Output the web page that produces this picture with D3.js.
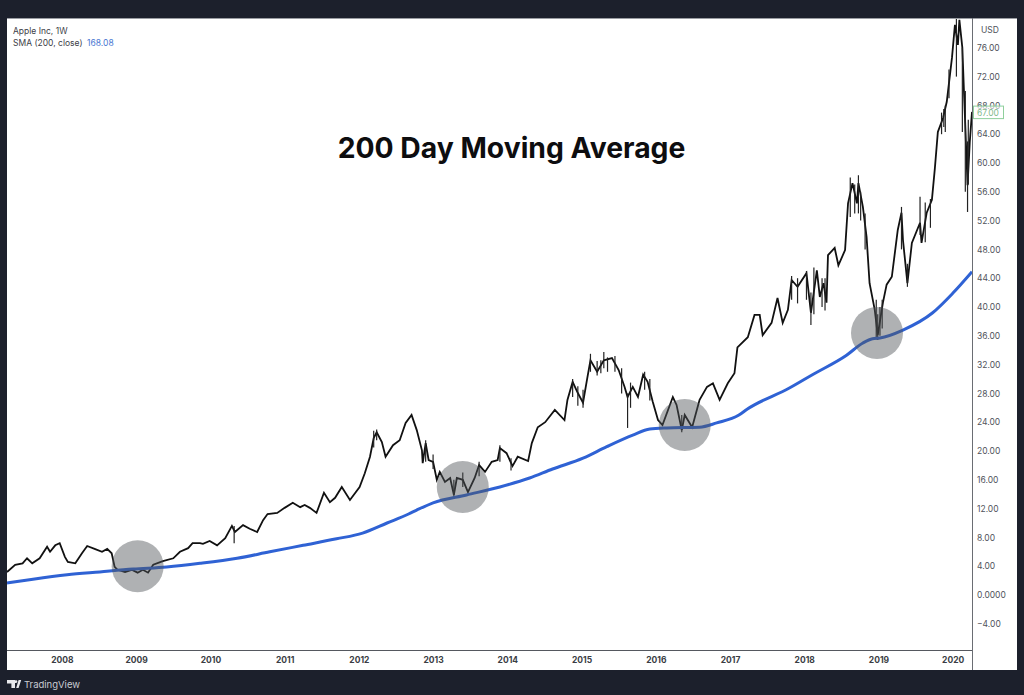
<!DOCTYPE html>
<html><head><meta charset="utf-8">
<script src="https://cdn.jsdelivr.net/npm/d3@7"></script>
<style>html,body{margin:0;padding:0;background:#1c202c;overflow:hidden}svg{display:block}</style>
</head><body><svg id="c" width="1024" height="695"></svg>
<script>
const priceYears=[2007.26,2007.37,2007.47,2007.53,2007.60,2007.70,2007.80,2007.84,2007.91,2007.97,2008.04,2008.08,2008.18,2008.27,2008.34,2008.44,2008.54,2008.61,2008.67,2008.71,2008.75,2008.85,2008.94,2009.02,2009.09,2009.16,2009.23,2009.36,2009.50,2009.59,2009.70,2009.76,2009.86,2009.90,2009.99,2010.09,2010.20,2010.29,2010.33,2010.44,2010.53,2010.63,2010.71,2010.77,2010.90,2011.00,2011.11,2011.21,2011.27,2011.34,2011.43,2011.53,2011.61,2011.68,2011.77,2011.88,2012.01,2012.08,2012.15,2012.20,2012.24,2012.31,2012.36,2012.46,2012.55,2012.63,2012.71,2012.78,2012.85,2012.86,2012.90,2012.94,2013.00,2013.05,2013.09,2013.16,2013.23,2013.28,2013.32,2013.40,2013.47,2013.56,2013.62,2013.70,2013.79,2013.87,2013.90,2013.99,2014.07,2014.14,2014.28,2014.33,2014.41,2014.51,2014.64,2014.77,2014.81,2014.88,2014.95,2015.02,2015.08,2015.12,2015.21,2015.30,2015.41,2015.50,2015.58,2015.62,2015.69,2015.76,2015.83,2015.89,2015.96,2016.03,2016.09,2016.23,2016.28,2016.35,2016.39,2016.49,2016.59,2016.69,2016.77,2016.86,2016.97,2017.06,2017.10,2017.24,2017.33,2017.40,2017.44,2017.56,2017.64,2017.71,2017.78,2017.83,2017.91,2018.03,2018.09,2018.17,2018.21,2018.26,2018.30,2018.32,2018.41,2018.46,2018.55,2018.59,2018.65,2018.71,2018.73,2018.79,2018.84,2018.88,2018.95,2018.99,2019.06,2019.11,2019.18,2019.26,2019.31,2019.33,2019.39,2019.45,2019.56,2019.58,2019.65,2019.72,2019.76,2019.80,2019.87,2019.92,2019.99,2020.03,2020.07,2020.09,2020.13,2020.15,2020.19,2020.20,2020.23,2020.26];
const priceValues=[3.2,4.2,4.4,5.1,4.4,5.1,6.7,6.0,6.9,7.2,5.3,4.6,4.4,5.8,6.8,6.4,6.0,6.4,5.8,3.9,3.5,3.2,3.5,3.1,3.5,3.1,4.2,4.7,5.1,6.0,6.5,7.2,7.2,7.1,7.5,6.9,7.9,9.6,8.75,9.7,9.2,8.75,10.4,11.25,11.4,12.1,12.8,12.2,12.5,12.1,11.4,14.2,12.9,13.5,15.0,13.2,15.0,16.9,19.2,21.8,22.6,21.25,19.2,20.8,21.5,23.9,25.0,22.9,20.1,18.3,21.1,18.75,18.5,16.0,17.1,15.7,16.25,13.9,16.25,16.0,14.3,16.25,18.05,17.1,18.5,18.75,20.4,19.7,17.9,19.2,18.6,21.1,23.3,24.0,25.7,24.3,27.1,29.6,28.05,26.7,30.3,32.6,31.0,32.6,32.9,31.25,28.9,27.5,28.9,27.5,30.6,29.6,26.8,24.3,23.6,27.5,26.4,22.9,25.0,23.3,27.1,28.9,29.4,27.1,29.4,30.8,34.4,35.8,38.9,38.9,36.1,37.8,41.25,37.8,39.6,43.75,42.8,44.7,39.2,45.1,41.4,43.3,40.6,47.2,48.2,45.8,47.9,54.4,57.2,54.4,57.2,53.9,49.7,43.3,39.6,36.1,40.6,43.1,44.2,50.7,53.1,49.3,43.3,48.9,51.7,48.9,53.1,54.9,59.3,64.3,66.25,68.5,74.6,79.2,76.4,79.9,76.0,70.4,59.7,56.9,62.9,67.1];
const wickYears=[2010.32,2015.62,2015.30,2015.12,2016.35,2018.09,2018.73,2018.99,2019.31,2019.39,2019.56,2019.90,2020.13,2020.20,2012.20,2012.24,2012.90,2013.00,2013.28,2013.40,2013.62,2013.90,2014.05,2014.88,2014.95,2015.02,2015.21,2015.26,2015.35,2015.45,2015.54,2015.66,2015.85,2015.92,2017.83,2017.91,2018.03,2018.13,2018.24,2018.28,2018.62,2018.68,2018.76,2018.82,2018.97,2019.02,2019.05,2019.63,2019.70,2019.85,2019.88,2019.95,2020.05,2020.17,2020.21];
const wickLows=[7.2,23.2,31.5,31.0,22.6,37.5,53.0,35.4,48.0,42.8,50.0,64.3,64.3,53.2,20.5,21.5,18.5,17.5,13.5,15.0,16.5,18.5,17.3,27.5,26.3,26.0,30.5,30.8,31.0,31.0,28.0,26.0,28.5,27.0,41.0,40.5,41.0,39.0,40.0,39.5,52.5,53.0,52.0,48.0,35.5,36.0,37.0,49.0,51.0,64.0,65.0,69.0,72.0,56.0,57.0];
const wickHighs=[9.6,28.0,33.75,33.5,25.0,42.0,58.3,39.0,53.9,46.0,55.3,68.0,76.0,63.0,22.8,23.0,21.5,19.5,16.0,17.0,18.5,20.8,19.0,30.0,29.0,28.5,32.5,32.6,33.0,33.2,31.5,29.5,31.0,30.0,44.3,44.0,45.0,45.5,44.0,44.0,58.0,57.0,56.0,53.0,41.0,40.0,41.0,54.5,55.0,67.0,67.5,73.0,80.0,70.0,66.0];
const smaYears=[2007.26,2007.61,2008.07,2008.51,2008.96,2009.41,2009.86,2010.36,2010.80,2011.25,2011.70,2012.05,2012.38,2012.67,2012.78,2013.00,2013.45,2013.90,2014.30,2014.61,2015.02,2015.34,2015.69,2015.92,2016.15,2016.59,2016.82,2017.12,2017.23,2017.80,2018.11,2018.57,2018.79,2018.92,2019.02,2019.33,2019.73,2020.00,2020.26];
const smaValues=[1.67,2.2,2.8,3.2,3.6,3.9,4.4,5.1,6.0,6.9,7.8,8.6,10.0,11.25,11.8,12.8,13.9,15.0,16.25,17.5,19.0,20.6,22.2,23.05,23.2,23.3,23.9,25.0,25.8,28.75,30.6,33.3,35.0,35.6,35.7,36.8,39.2,41.9,44.9];
const touchYears=[2009.02,2013.40,2016.39,2018.98];
const touchValues=[4.0,15.0,23.6,36.4];
const yearTicks=[2008,2009,2010,2011,2012,2013,2014,2015,2016,2017,2018,2019,2020];
const priceTicks=[76,72,68,64,60,56,52,48,44,40,36,32,28,24,20,16,12,8,4,0,-4];
const lastPriceLabel="67.00";
const smaLastLabel="168.08";

const svg=d3.select("#c");
const L=7,R=972,T=18,B=650,RE=1017,BE=670;
const x=d3.scaleLinear().domain([2007.26,2020.26]).range([L,R]);
const y=d3.scaleLinear().domain([80.14,-7.64]).range([T,B]);
const F="Inter, 'Open Sans', sans-serif";

svg.append("rect").attr("width",1024).attr("height",695).attr("fill","#1c202c");
svg.append("rect").attr("x",L).attr("y",T).attr("width",RE-L).attr("height",BE-T).attr("fill","#fff");
svg.append("line").attr("x1",L).attr("x2",RE).attr("y1",T+.5).attr("y2",T+.5).attr("stroke","#9a9da3");
svg.append("clipPath").attr("id","plot").append("rect").attr("x",L).attr("y",T).attr("width",R-L).attr("height",B-T);
const plot=svg.append("g").attr("clip-path","url(#plot)");

const zip=(a,b)=>a.map((d,i)=>[d,b[i]]);
const line=d3.line().x(d=>x(d[0])).y(d=>y(d[1]));
plot.append("path").attr("d",line(zip(priceYears,priceValues))).attr("fill","none").attr("stroke","#111").attr("stroke-width",1.8).attr("stroke-linejoin","miter");
plot.selectAll("line.w").data(wickYears).join("line").attr("class","w")
 .attr("x1",d=>x(d)).attr("x2",d=>x(d)).attr("y1",(d,i)=>y(wickLows[i])).attr("y2",(d,i)=>y(wickHighs[i]))
 .attr("stroke","#222").attr("stroke-width",1.2);
plot.append("path").attr("d",d3.line().x(d=>x(d[0])).y(d=>y(d[1])).curve(d3.curveMonotoneX)(zip(smaYears,smaValues)))
 .attr("fill","none").attr("stroke","#2f62d4").attr("stroke-width",3);
plot.selectAll("circle").data(touchYears).join("circle")
 .attr("cx",d=>x(d)).attr("cy",(d,i)=>y(touchValues[i])).attr("r",26).attr("fill","#50555a").attr("fill-opacity",.46);

svg.append("line").attr("x1",L).attr("x2",R).attr("y1",B+.5).attr("y2",B+.5).attr("stroke","#55585f").attr("stroke-width",1);
svg.append("line").attr("x1",R+.5).attr("x2",R+.5).attr("y1",T).attr("y2",BE).attr("stroke","#6a6d73").attr("stroke-width",1);

const ax=svg.append("g").attr("transform",`translate(${R},0)`).call(d3.axisRight(y).tickValues(priceTicks).tickSize(0).tickPadding(5)
 .tickFormat(d=>d===0?"0.0000":d<0?"\u2212"+Math.abs(d).toFixed(2):d.toFixed(2)));
ax.select(".domain").remove();
ax.selectAll("text").attr("font-family",F).attr("font-size",8.5).attr("fill","#50535b");
const bx=svg.append("g").attr("transform",`translate(0,${B})`).call(d3.axisBottom(x).tickValues(yearTicks).tickSize(0).tickPadding(7).tickFormat(d3.format("d")));
bx.select(".domain").remove();
bx.selectAll("text").attr("font-family",F).attr("font-size",8.5).attr("font-weight",700).attr("fill","#3a3d44");

svg.append("text").attr("x",981).attr("y",33).attr("font-family",F).attr("font-size",8.5).attr("fill","#50535b").text("USD");
const lp=svg.append("g");
lp.append("rect").attr("x",973.5).attr("y",y(+lastPriceLabel)-6.5).attr("width",30).attr("height",12.5).attr("fill","#fff").attr("fill-opacity",.55).attr("stroke","#8fcf9c").attr("stroke-width",1);
lp.append("text").attr("x",977).attr("y",y(+lastPriceLabel)+3).attr("font-family",F).attr("font-size",8.5).attr("fill","#7fb98c").text(lastPriceLabel);

svg.append("text").attr("x",13).attr("y",33.5).attr("font-family",F).attr("font-size",8.5).attr("fill","#3d4047").text("Apple Inc, 1W");
svg.append("text").attr("x",13).attr("y",45.5).attr("font-family",F).attr("font-size",8.5).attr("fill","#3d4047").text("SMA (200, close)");
svg.append("text").attr("x",87).attr("y",45.5).attr("font-family",F).attr("font-size",8.5).attr("fill","#4a78d2").text(smaLastLabel);

svg.append("text").attr("x",511.5).attr("y",158).attr("text-anchor","middle").attr("font-family",F).attr("font-size",28.3).attr("font-weight",700).attr("fill","#0d0d0f").text("200 Day Moving Average");

svg.append("path").attr("d","M7 680h8v8h-3.6v-4.6H7zM16 680.2a1.4 1.4 0 1 1 0 2.8 1.4 1.4 0 0 1 0-2.8zM16.2 688l2.4-8h2.6l-2.6 8z").attr("fill","#e8e9ec");
svg.append("text").attr("x",24).attr("y",687.5).attr("font-family",F).attr("font-size",9.5).attr("fill","#c9ccd3").text("TradingView");
</script></body></html>
